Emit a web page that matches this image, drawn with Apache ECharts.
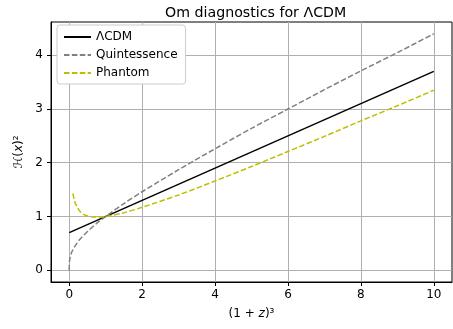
<!DOCTYPE html>
<html>
<head>
<meta charset="utf-8">
<script src="https://cdn.jsdelivr.net/npm/echarts@6/dist/echarts.min.js"></script>
<style>
  html, body { margin: 0; padding: 0; background: #fff; }
  #chart { width: 453px; height: 329px; }
</style>
</head>
<body>
<div id="chart"></div>
<script>
// values
const xTicks = [0, 2, 4, 6, 8, 10];
const yTicks = [0, 1, 2, 3, 4];

const lcdmX = [0, 10];
const lcdmY = [0.7, 3.7];

const quintX = [0, 0.01, 0.05, 0.1, 0.2, 0.3, 0.5, 0.75, 1, 1.5, 2, 3, 4, 5, 6, 7, 8, 9, 10];
const quintY = [0, 0.18, 0.30, 0.38, 0.49, 0.58, 0.72, 0.87, 1.0, 1.24, 1.46, 1.87, 2.26, 2.64, 3.0, 3.36, 3.71, 4.05, 4.40];

const phantX = [0.1, 0.15, 0.2, 0.3, 0.4, 0.5, 0.6, 0.75, 1, 1.5, 2, 3, 4, 5, 6, 7, 8, 9, 10];
const phantY = [1.43, 1.28, 1.20, 1.09, 1.04, 1.01, 0.996, 0.988, 1.0, 1.07, 1.17, 1.40, 1.66, 1.93, 2.21, 2.49, 2.78, 3.06, 3.35];

const zip = (xs, ys) => xs.map((x, i) => [x, ys[i]]);

const font = 'DejaVu Sans';
const chart = echarts.init(document.getElementById('chart'));

const axisCommon = {
  axisLine: { show: true, onZero: false, lineStyle: { color: '#000', width: 1 } },
  axisTick: { show: true, inside: false, length: 4, lineStyle: { color: '#000' } },
  axisLabel: { color: '#000', fontFamily: font, fontSize: 12, margin: 7 },
  splitLine: { show: true, lineStyle: { color: '#b0b0b0', width: 1 } },
};
const nameStyle = {
  fontFamily: font, fontSize: 12, color: '#000',
  rich: { i: { fontFamily: font, fontSize: 12, fontStyle: 'italic', color: '#000' } },
};

chart.setOption({
  animation: false,
  title: {
    text: 'Om diagnostics for ΛCDM',
    left: 160, top: 1,
    textStyle: { fontFamily: font, fontSize: 14.2, fontWeight: 'normal', color: '#000' },
  },
  legend: {
    orient: 'vertical', left: 57, top: 25,
    backgroundColor: '#fff', borderColor: '#cccccc', borderWidth: 1, borderRadius: 3,
    padding: [6, 8, 5, 6],
    itemWidth: 27, itemHeight: 12, itemGap: 6,
    itemStyle: { opacity: 0 },
    textStyle: { fontFamily: font, fontSize: 12, color: '#000' },
    data: ['ΛCDM', 'Quintessence', 'Phantom'],
  },
  grid: { left: 51, right: 1, top: 22, bottom: 47, show: true, borderColor: '#000', borderWidth: 1 },
  xAxis: {
    type: 'value', min: -0.5, max: 10.5,
    name: '(1 + {i|z})³', nameLocation: 'middle', nameGap: 26,
    nameTextStyle: nameStyle,
    ...axisCommon,
    axisTick: { ...axisCommon.axisTick, customValues: xTicks },
    axisLabel: { ...axisCommon.axisLabel, customValues: xTicks },
  },
  yAxis: {
    type: 'value', min: -0.22, max: 4.62,
    name: 'ℋ({i|x})²', nameLocation: 'middle', nameGap: 23, nameRotate: 90,
    nameTextStyle: nameStyle,
    ...axisCommon,
    axisTick: { ...axisCommon.axisTick, customValues: yTicks },
    axisLabel: { ...axisCommon.axisLabel, margin: 8, customValues: yTicks },
  },
  series: [
    {
      name: 'ΛCDM', type: 'line', data: zip(lcdmX, lcdmY),
      showSymbol: false, symbol: 'none',
      lineStyle: { color: '#000', width: 1.5 }, itemStyle: { color: '#000' },
    },
    {
      name: 'Quintessence', type: 'line', data: zip(quintX, quintY),
      smooth: 0.3, showSymbol: false, symbol: 'none',
      lineStyle: { color: '#808080', width: 1.5, type: [5.5, 2.4] }, itemStyle: { color: '#808080' },
    },
    {
      name: 'Phantom', type: 'line', data: zip(phantX, phantY),
      smooth: 0.3, showSymbol: false, symbol: 'none',
      lineStyle: { color: '#bfbf00', width: 1.5, type: [5.5, 2.4] }, itemStyle: { color: '#bfbf00' },
    },
  ],
});
</script>
</body>
</html>
